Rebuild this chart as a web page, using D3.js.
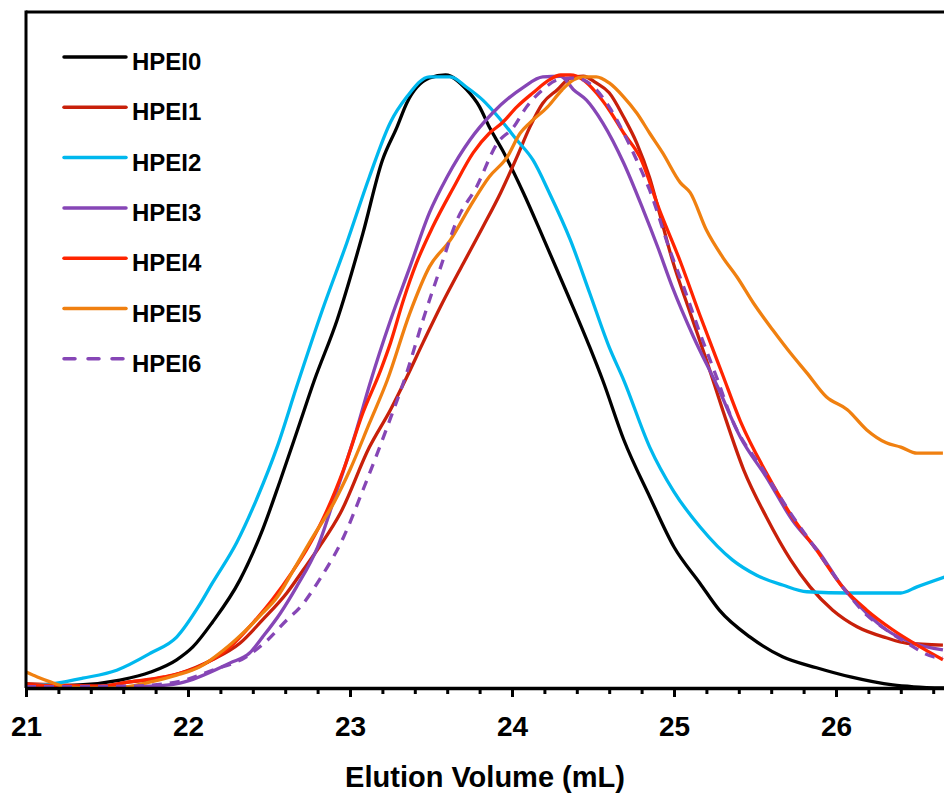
<!DOCTYPE html>
<head>
<meta charset="utf-8">
<title>Elution curves</title>
<style>
body { margin: 0; background: #fff; }
text { font-family: "Liberation Sans", Arial, sans-serif; font-weight: bold; fill: #000; }
path.curve { fill: none; stroke-width: 3.3px; stroke-linejoin: round; }
.axis path, .axis line { stroke: #000; }
</style>
</head>
<body>
<script src="https://cdnjs.cloudflare.com/ajax/libs/d3/7.8.5/d3.min.js"></script>
<script>

// series names and colours (legend order)
var names = ["HPEI0", "HPEI1", "HPEI2", "HPEI3", "HPEI4", "HPEI5", "HPEI6"];
var colors = ["#000000", "#c8200a", "#00b8ee", "#8646b6", "#ff2400", "#f08010", "#8646b6"];
var dashed = [false, false, false, false, false, false, true];

// x tick labels (elution volume, mL)
var majorTicks = [21, 22, 23, 24, 25, 26];

// [volume mL, normalised signal]
var hpei0 = [[21.0,0.003],[21.33,0.005],[21.58,0.013],[21.77,0.026],[21.93,0.046],[22.03,0.067],
  [22.15,0.107],[22.32,0.176],[22.46,0.258],[22.57,0.339],[22.69,0.432],[22.78,0.502],[22.92,0.600],
  [23.08,0.742],[23.20,0.861],[23.29,0.915],[23.35,0.954],[23.49,0.995],[23.59,1.0],[23.72,0.976],
  [23.80,0.948],[23.86,0.915],[23.94,0.878],[24.07,0.808],[24.19,0.736],[24.34,0.644],[24.48,0.556],
  [24.56,0.502],[24.69,0.405],[24.85,0.312],[25.00,0.230],[25.16,0.171],[25.28,0.127],[25.47,0.083],
  [25.67,0.051],[25.88,0.033],[26.09,0.018],[26.35,0.005],[26.48,0.002],[26.67,0.0]];

var hpei1 = [[21.0,0.007],[21.46,0.003],[21.64,0.010],[21.75,0.013],[21.95,0.024],[22.15,0.046],
  [22.32,0.073],[22.46,0.111],[22.61,0.155],[22.71,0.192],[22.81,0.230],[22.94,0.285],[23.12,0.393],
  [23.25,0.454],[23.35,0.507],[23.45,0.563],[23.57,0.628],[23.70,0.693],[23.82,0.752],[23.93,0.808],
  [24.03,0.866],[24.11,0.915],[24.19,0.954],[24.28,0.976],[24.36,0.995],[24.44,0.998],[24.52,0.987],
  [24.60,0.971],[24.69,0.931],[24.77,0.889],[24.85,0.832],[24.90,0.785],[24.99,0.698],[25.10,0.612],
  [25.20,0.535],[25.30,0.454],[25.43,0.356],[25.57,0.279],[25.72,0.209],[25.84,0.165],[25.98,0.127],
  [26.13,0.100],[26.31,0.082],[26.44,0.073],[26.66,0.070]];

var hpei2 = [[21.0,0.003],[21.19,0.008],[21.35,0.016],[21.56,0.029],[21.77,0.057],[21.93,0.083],
  [22.07,0.135],[22.15,0.171],[22.30,0.237],[22.43,0.312],[22.55,0.393],[22.67,0.491],[22.83,0.617],
  [22.98,0.726],[23.12,0.834],[23.25,0.923],[23.35,0.964],[23.49,0.997],[23.62,0.997],[23.72,0.980],
  [23.82,0.959],[23.93,0.927],[24.03,0.894],[24.13,0.861],[24.23,0.808],[24.36,0.731],[24.48,0.644],
  [24.60,0.556],[24.69,0.502],[24.85,0.393],[25.00,0.320],[25.16,0.263],[25.36,0.209],[25.51,0.184],
  [25.67,0.168],[25.82,0.157],[26.09,0.155],[26.40,0.155],[26.50,0.165],[26.67,0.181]];

var hpei3 = [[21.0,0.002],[21.46,0.002],[21.77,0.003],[21.95,0.008],[22.26,0.041],[22.38,0.057],
  [22.46,0.083],[22.57,0.122],[22.67,0.165],[22.80,0.230],[22.92,0.323],[23.04,0.421],[23.12,0.494],
  [23.25,0.600],[23.37,0.687],[23.49,0.775],[23.60,0.834],[23.74,0.894],[23.88,0.938],[24.07,0.980],
  [24.19,0.997],[24.30,0.998],[24.38,0.976],[24.46,0.959],[24.56,0.922],[24.69,0.856],[24.81,0.780],
  [24.90,0.719],[24.99,0.654],[25.12,0.573],[25.27,0.491],[25.41,0.409],[25.57,0.344],[25.73,0.274],
  [25.90,0.220],[26.04,0.165],[26.19,0.122],[26.31,0.095],[26.48,0.073],[26.66,0.062]];

var hpei4 = [[21.0,0.005],[21.46,0.003],[21.64,0.010],[21.85,0.018],[22.06,0.034],[22.26,0.067],
  [22.40,0.106],[22.52,0.144],[22.65,0.192],[22.73,0.225],[22.83,0.274],[22.96,0.356],[23.08,0.449],
  [23.19,0.519],[23.25,0.563],[23.33,0.633],[23.41,0.693],[23.51,0.752],[23.64,0.817],[23.76,0.873],
  [23.86,0.905],[23.94,0.922],[24.03,0.948],[24.13,0.971],[24.23,0.992],[24.30,1.0],[24.36,1.0],
  [24.44,0.992],[24.52,0.971],[24.60,0.943],[24.69,0.905],[24.79,0.866],[24.91,0.780],[25.04,0.695],
  [25.16,0.608],[25.30,0.511],[25.41,0.435],[25.57,0.351],[25.73,0.279],[25.88,0.225],[26.04,0.165],
  [26.19,0.127],[26.35,0.095],[26.52,0.067],[26.66,0.046]];

var hpei5 = [[21.0,0.026],[21.07,0.018],[21.15,0.010],[21.25,0.002],[21.46,0.0],[21.62,0.002],
  [21.77,0.010],[21.93,0.021],[22.07,0.034],[22.22,0.062],[22.34,0.090],[22.46,0.122],[22.55,0.148],
  [22.65,0.192],[22.77,0.246],[22.90,0.302],[23.00,0.356],[23.12,0.432],[23.23,0.502],[23.37,0.612],
  [23.49,0.687],[23.62,0.731],[23.74,0.785],[23.86,0.834],[23.97,0.866],[24.05,0.905],[24.11,0.922],
  [24.22,0.948],[24.31,0.976],[24.38,0.992],[24.44,0.997],[24.52,0.997],[24.60,0.987],[24.69,0.964],
  [24.77,0.938],[24.85,0.905],[24.93,0.873],[25.04,0.824],[25.10,0.808],[25.20,0.747],[25.30,0.703],
  [25.39,0.670],[25.49,0.628],[25.61,0.584],[25.72,0.546],[25.82,0.514],[25.94,0.475],[26.07,0.454],
  [26.19,0.421],[26.31,0.400],[26.40,0.393],[26.50,0.383],[26.66,0.383]];

var hpei6 = [[21.0,0.002],[21.64,0.003],[21.95,0.011],[22.15,0.029],[22.36,0.051],[22.49,0.078],
  [22.61,0.111],[22.69,0.131],[22.81,0.176],[22.96,0.246],[23.08,0.323],[23.23,0.426],[23.35,0.514],
  [23.45,0.600],[23.56,0.687],[23.66,0.763],[23.78,0.817],[23.91,0.889],[24.01,0.915],[24.09,0.948],
  [24.19,0.976],[24.28,0.992],[24.36,0.995],[24.44,0.992],[24.52,0.976],[24.60,0.948],[24.69,0.905],
  [24.77,0.861],[24.85,0.812],[24.98,0.710],[25.06,0.654],[25.16,0.579],[25.27,0.502],[25.36,0.437],
  [25.55,0.356],[25.72,0.285],[25.88,0.225],[26.07,0.155],[26.19,0.119],[26.31,0.095],[26.44,0.073],
  [26.60,0.051],[26.66,0.049]];

var series = [hpei0, hpei1, hpei2, hpei3, hpei4, hpei5, hpei6];

var width = 944,
    height = 794;

// plot box (right side runs past the picture edge)
var plotLeft = 26, plotTop = 12, plotBottom = 688;

var x = d3.scaleLinear().domain([21, 27]).range([plotLeft, plotLeft + 6 * 162]);
var y = d3.scaleLinear().domain([0, 1]).range([plotBottom, 75]);

var svg = d3.select("body")
    .append("svg")
    .attr("width", width)
    .attr("height", height);

svg.append("defs").append("clipPath")
    .attr("id", "plot")
  .append("rect")
    .attr("x", plotLeft).attr("y", plotTop)
    .attr("width", width - plotLeft).attr("height", plotBottom - plotTop);

// curves
var line = d3.line()
    .x(d => x(d[0]))
    .y(d => y(d[1]))
    .curve(d3.curveMonotoneX);

svg.append("g")
    .attr("clip-path", "url(#plot)")
  .selectAll("path")
    .data(series)
    .enter()
    .append("path")
    .attr("class", "curve")
    .attr("d", line)
    .style("stroke", (d, i) => colors[i])
    .style("stroke-dasharray", (d, i) => dashed[i] ? "10,8" : "none");

// frame: top and left border
svg.append("line")
    .attr("x1", plotLeft).attr("x2", width)
    .attr("y1", plotTop).attr("y2", plotTop)
    .style("stroke", "#000").style("stroke-width", 3);
svg.append("line")
    .attr("x1", plotLeft).attr("x2", plotLeft)
    .attr("y1", plotTop - 1.5).attr("y2", plotBottom)
    .style("stroke", "#000").style("stroke-width", 3);

// minor ticks every 0.2 mL
var minor = d3.range(21, 27.01, 0.2).filter(v => Math.abs(v - Math.round(v)) > 0.01);
svg.append("g")
    .attr("class", "axis")
    .attr("transform", "translate(0," + plotBottom + ")")
    .call(d3.axisBottom(x).tickValues(minor).tickSize(6).tickSizeOuter(0).tickFormat(""))
    .call(g => g.selectAll("line").style("stroke-width", 3))
    .call(g => g.select(".domain").remove());

// major ticks and labels
var xAxis = svg.append("g")
    .attr("class", "axis")
    .attr("transform", "translate(0," + plotBottom + ")")
    .call(d3.axisBottom(x).tickValues(majorTicks).tickSize(9).tickSizeOuter(0)
      .tickPadding(19).tickFormat(d3.format("d")));
xAxis.select(".domain").style("stroke-width", 3.5);
xAxis.selectAll("line").style("stroke-width", 3);
xAxis.selectAll("text")
    .style("font-size", "28px")
    .style("font-family", "'Liberation Sans', Arial, sans-serif")
    .style("font-weight", "bold");

svg.append("text")
    .attr("x", 485)
    .attr("y", 787)
    .attr("text-anchor", "middle")
    .style("font-size", "29px")
    .text("Elution Volume (mL)");

// legend
var legend = svg.selectAll(".legend")
    .data(names)
    .enter().append("g")
    .attr("class", "legend")
    .attr("transform", (d, i) => "translate(0," + (57 + i * 50.3) + ")");

legend.append("line")
    .attr("x1", 64).attr("x2", 126)
    .attr("y1", 0).attr("y2", 0)
    .style("stroke", (d, i) => colors[i])
    .style("stroke-width", 3.5)
    .style("stroke-linecap", "round")
    .style("stroke-dasharray", (d, i) => dashed[i] ? "11,13" : "none");

legend.append("text")
    .attr("x", 132)
    .attr("y", 13)
    .style("font-size", "24px")
    .text(d => d);

</script>
</body>
</html>
